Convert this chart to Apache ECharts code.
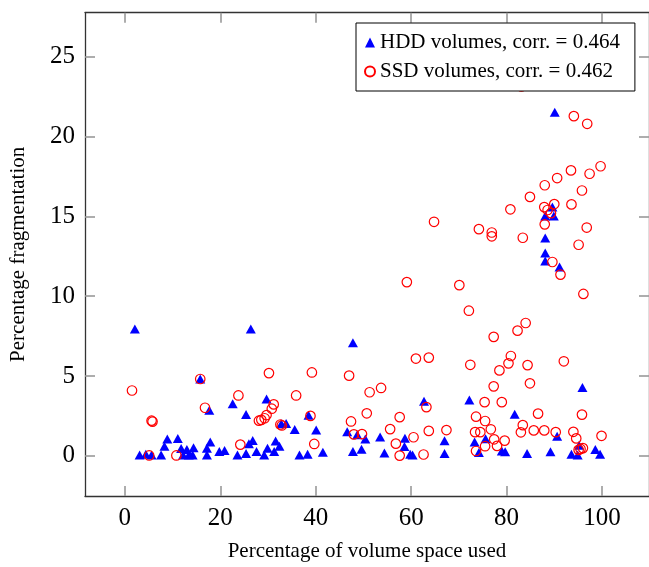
<!DOCTYPE html>
<html>
<head>
<meta charset="utf-8">
<script src="https://cdn.jsdelivr.net/npm/echarts@6/dist/echarts.min.js"></script>
<style>
html,body{margin:0;padding:0;background:#fff;}
#chart{width:649px;height:567px;}
</style>
</head>
<body>
<div id="chart"></div>
<script>
// ---- data ----
const xTicks = [0, 20, 40, 60, 80, 100];
const yTicks = [0, 5, 10, 15, 20, 25];
const seriesNames = ['HDD volumes, corr. = 0.464', 'SSD volumes, corr. = 0.462'];
const xTitle = 'Percentage of volume space used';
const yTitle = 'Percentage fragmentation';

const hddPoints = [
  [2.1, 7.94], [3.1, 0.05], [4.4, 0.1], [5.6, 0.05], [7.6, 0.05], [8.3, 0.6],
  [8.9, 1.05], [11.1, 1.09], [11.8, 0.45], [12.2, 0.05], [13.0, 0.4], [13.4, 0.05],
  [14.4, 0.5], [14.2, 0.05], [15.8, 4.81], [17.7, 2.85], [17.9, 0.87], [17.2, 0.47],
  [17.2, 0.05], [19.8, 0.27], [20.9, 0.33], [22.6, 3.26], [23.6, 0.05], [25.4, 2.58],
  [25.4, 0.15], [26.4, 7.94], [26.8, 0.95], [26.0, 0.75], [27.6, 0.27], [29.2, 0.05],
  [29.7, 3.55], [29.9, 0.47], [31.3, 0.27], [31.6, 0.93], [32.4, 0.6], [32.8, 2.0],
  [33.8, 2.02], [35.6, 1.64], [36.6, 0.05], [38.3, 0.1], [38.5, 2.54], [40.1, 1.61],
  [41.5, 0.22], [46.6, 1.5], [47.8, 7.08], [47.8, 0.27], [48.7, 1.32], [49.6, 0.41],
  [50.4, 1.05], [53.5, 1.18], [54.4, 0.17], [58.7, 1.1], [58.6, 0.58], [59.8, 0.1],
  [60.3, 0.05], [62.7, 3.41], [67.0, 0.94], [67.0, 0.15], [72.2, 3.5], [73.3, 0.87],
  [74.2, 0.2], [75.6, 1.06], [79.0, 0.3], [79.7, 0.25], [81.7, 2.6], [84.3, 0.15],
  [89.2, 0.25], [90.6, 1.23], [93.6, 0.1], [94.9, 0.05], [95.2, 0.66], [95.9, 4.27],
  [98.6, 0.4], [99.6, 0.1], [88.1, 12.2], [88.1, 12.71], [88.1, 13.64], [88.1, 15.03],
  [89.9, 15.03], [89.6, 15.58], [90.1, 21.53], [91.1, 11.83]
];

const ssdPoints = [
  [1.5, 4.09], [5.1, 0.02], [5.6, 2.2], [5.8, 2.14], [10.8, 0.02], [15.8, 4.81],
  [16.8, 3.01], [23.8, 3.78], [24.2, 0.7], [28.1, 2.2], [28.6, 2.25], [29.3, 2.35],
  [29.7, 2.55], [30.8, 2.95], [31.2, 3.22], [30.2, 5.18], [32.6, 1.96], [32.9, 1.9],
  [35.9, 3.78], [39.2, 5.22], [38.9, 2.5], [39.7, 0.74], [47.0, 5.02], [47.4, 2.15],
  [48.0, 1.34], [49.7, 1.36], [50.7, 2.66], [51.3, 3.98], [53.7, 4.25], [55.6, 1.67],
  [56.8, 0.76], [57.6, 2.42], [57.6, 0.01], [59.1, 10.88], [60.5, 1.16], [61.0, 6.09],
  [62.6, 0.08], [63.2, 3.05], [63.7, 6.15], [63.7, 1.56], [64.8, 14.66], [67.4, 1.61],
  [70.1, 10.69], [72.1, 9.09], [72.4, 5.7], [73.4, 1.48], [73.6, 2.45], [73.6, 0.3],
  [74.2, 14.2], [74.5, 1.48], [75.4, 3.36], [75.5, 2.18], [75.5, 0.6], [76.7, 1.66],
  [76.9, 13.99], [76.9, 13.75], [77.3, 7.45], [77.3, 4.35], [77.4, 1.03], [78.0, 0.62],
  [78.5, 5.35], [79.0, 3.36], [79.6, 0.95], [80.4, 5.79], [80.8, 15.44], [80.9, 6.25],
  [82.3, 7.84], [83.1, 23.14], [83.0, 1.47], [83.4, 1.92], [83.4, 13.66], [84.0, 8.32],
  [84.4, 5.68], [84.9, 4.54], [84.9, 16.22], [85.7, 1.59], [86.6, 2.64], [87.9, 1.59],
  [88.0, 16.95], [87.9, 15.58], [88.6, 15.4], [88.0, 14.5], [89.3, 15.2], [89.6, 12.14],
  [90.0, 15.77], [90.3, 1.48], [90.6, 17.4], [91.3, 11.35], [92.0, 5.92], [93.5, 17.88],
  [93.6, 15.75], [94.0, 1.5], [94.1, 21.28], [94.6, 1.09], [95.1, 0.37], [95.5, 0.43],
  [96.0, 0.48], [95.1, 13.22], [95.8, 16.62], [95.8, 2.58], [96.1, 10.14], [96.8, 14.3],
  [96.9, 20.8], [97.4, 17.67], [99.7, 18.14], [99.9, 1.25]
];

const xRange = [-8.35, 109.85];
const yRange = [-2.52, 27.76];

// ---- chart ----
const FONT = 'Liberation Serif';
const axisLineStyle = { color: '#333', width: 1.3 };
const tickStyle = { color: '#999', width: 1.6 };
const labelStyle = { fontFamily: FONT, fontSize: 25, color: '#000' };

const chart = echarts.init(document.getElementById('chart'), null, { renderer: 'canvas' });
chart.setOption({
  animation: false,
  backgroundColor: '#fff',
  textStyle: { fontFamily: FONT },
  grid: { left: 83.3, top: 12.7, width: 567.3, height: 489, containLabel: false },
  legend: {
    orient: 'vertical',
    left: 356,
    top: 23,
    data: seriesNames,
    itemWidth: 10,
    itemHeight: 10,
    itemGap: 8,
    padding: [9, 15, 9, 8],
    borderColor: '#000',
    borderWidth: 1,
    backgroundColor: '#fff',
    borderRadius: 0,
    textStyle: { fontFamily: FONT, fontSize: 21, color: '#000', lineHeight: 21 }
  },
  xAxis: [
    {
      type: 'value', position: 'bottom', min: xRange[0], max: xRange[1],
      name: xTitle, nameLocation: 'middle', nameGap: 45,
      nameTextStyle: { fontFamily: FONT, fontSize: 21, color: '#000' },
      axisLine: { show: true, onZero: false, lineStyle: axisLineStyle },
      axisTick: { show: true, inside: true, length: 10, lineStyle: tickStyle, customValues: xTicks },
      axisLabel: Object.assign({ show: true, margin: 10, customValues: xTicks }, labelStyle),
      splitLine: { show: false }
    },
    {
      type: 'value', position: 'top', min: xRange[0], max: xRange[1],
      axisLine: { show: true, onZero: false, lineStyle: axisLineStyle },
      axisTick: { show: true, inside: true, length: 10, lineStyle: tickStyle, customValues: xTicks },
      axisLabel: { show: false, customValues: xTicks },
      splitLine: { show: false }
    }
  ],
  yAxis: [
    {
      type: 'value', position: 'left', min: yRange[0], max: yRange[1],
      name: yTitle, nameLocation: 'middle', nameGap: 56, nameRotate: 90,
      nameTextStyle: { fontFamily: FONT, fontSize: 21, color: '#000' },
      axisLine: { show: true, onZero: false, lineStyle: axisLineStyle },
      axisTick: { show: true, inside: true, length: 10, lineStyle: tickStyle, customValues: yTicks },
      axisLabel: Object.assign({ show: true, margin: 10, customValues: yTicks }, labelStyle),
      splitLine: { show: false }
    },
    {
      type: 'value', position: 'right', min: yRange[0], max: yRange[1],
      axisLine: { show: true, onZero: false, lineStyle: axisLineStyle },
      axisTick: { show: true, inside: true, length: 10, lineStyle: tickStyle, customValues: yTicks },
      axisLabel: { show: false, customValues: yTicks },
      splitLine: { show: false }
    }
  ],
  series: [
    {
      name: seriesNames[0], type: 'scatter', xAxisIndex: 0, yAxisIndex: 0,
      symbol: 'triangle', symbolSize: [10, 9],
      itemStyle: { color: '#0000ff', opacity: 1 },
      data: hddPoints, z: 2
    },
    {
      name: seriesNames[1], type: 'scatter', xAxisIndex: 0, yAxisIndex: 0,
      symbol: 'circle', symbolSize: 9.5,
      itemStyle: { color: 'rgba(255,255,255,0)', borderColor: '#ff0000', borderWidth: 1.2, opacity: 1 },
      data: ssdPoints, z: 3
    }
  ]
});
</script>
</body>
</html>
